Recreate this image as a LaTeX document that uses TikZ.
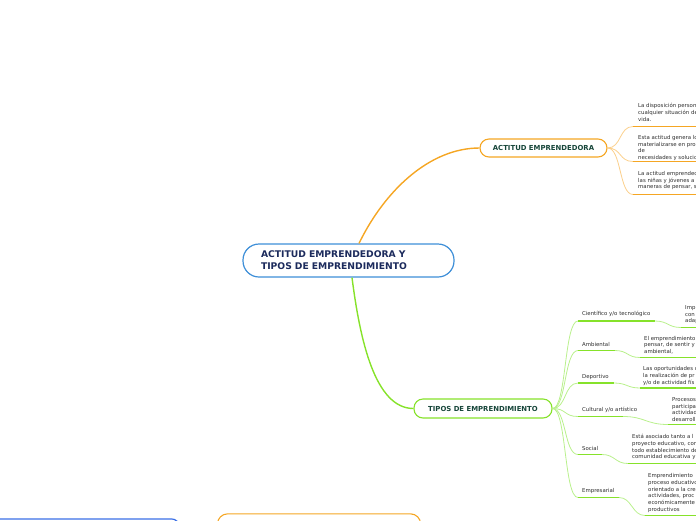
\documentclass[tikz,border=0pt]{standalone}
\usepackage{fontspec}
\setmainfont{DejaVu Sans}
\definecolor{cblue}{HTML}{3E8FD8}
\definecolor{cnavy}{HTML}{1B2A5C}
\definecolor{corange}{HTML}{F5A623}
\definecolor{clorange}{HTML}{FBD08C}
\definecolor{cgreen}{HTML}{86E22A}
\definecolor{clgreen}{HTML}{B9F08C}
\definecolor{cdgreen}{HTML}{17463A}
\definecolor{ctext}{HTML}{2E2E2E}
\definecolor{cbblue}{HTML}{3A6FE6}
\tikzset{
  mainbox/.style={draw=cblue,line width=1.2pt,rounded corners=16pt,fill=white,minimum width=211pt,minimum height=33pt,text width=175pt,align=left,inner sep=0pt,text=cnavy,font=\fontsize{9.2}{12}\selectfont\bfseries},
  subbox/.style={draw=#1,line width=1.1pt,rounded corners=9pt,fill=white,minimum height=18pt,inner sep=0pt,text=cdgreen,font=\fontsize{6.9}{8}\selectfont\bfseries},
  desc/.style={anchor=north west,inner sep=0pt,align=left,text=ctext,font=\fontsize{5.4}{6.7}\selectfont},
  catlabel/.style={anchor=south west,inner sep=0pt,text=ctext,font=\fontsize{5.4}{6}\selectfont},
  ortrunk/.style={draw=corange,line width=1.4pt},
  grtrunk/.style={draw=cgreen,line width=1.4pt},
  orfan/.style={draw=clorange,line width=0.8pt},
  grfan/.style={draw=clgreen,line width=0.8pt},
  orline/.style={draw=corange,line width=1.5pt},
  grline/.style={draw=cgreen,line width=1.5pt},
}
\begin{document}
\begin{tikzpicture}[x=1pt,y=-1pt]
\useasboundingbox (0,0) rectangle (696,520);
\clip (0,0) rectangle (696,520);

% main nodes and connectors
\node[mainbox] (central) at (348.5,260.5) {ACTITUD EMPRENDEDORA Y\\TIPOS DE EMPRENDIMIENTO};
\node[subbox=corange,minimum width=127pt] (actitud) at (543.5,148) {ACTITUD EMPRENDEDORA};
\node[subbox=cgreen,minimum width=138pt,minimum height=19pt] (tipos) at (483,408.5) {TIPOS DE EMPRENDIMIENTO};

\draw[ortrunk] ([xshift=10.5pt]central.north) .. controls (385,190) and (430,148) .. (actitud.west);
\draw[grtrunk] ([xshift=3.5pt]central.south) .. controls (360,340) and (375,408.5) .. (tipos.west);

% ACTITUD descriptions
\coordinate (a1) at (633,126.5);
\coordinate (a2) at (633,161.5);
\coordinate (a3) at (633,194.5);
\foreach \c in {a1,a2,a3}{
  \draw[orfan] (actitud.east) .. controls +(14,0) and ([xshift=-14pt]\c) .. (\c);
}
\coordinate (a1e) at (700,126.5);
\coordinate (a2e) at (700,161.5);
\coordinate (a3e) at (700,194.5);
\draw[orline] (a1) -- (a1e);
\draw[orline] (a2) -- (a2e);
\draw[orline] (a3) -- (a3e);
\node[desc] (ad1) at (638,103.4) {La disposición person\\cualquier situación de\\vida.};
\node[desc] (ad2) at (638,135.1) {Esta actitud genera lo\\materializarse en pro\\de\\necesidades y solucio};
\node[desc] (ad3) at (638,171.2) {La actitud emprended\\las niñas y jóvenes a\\maneras de pensar, s};

% TIPOS categories
\coordinate (c1) at (578,321);   \coordinate (c1e) at (655,321);
\coordinate (c2) at (578,350.5); \coordinate (c2e) at (615,350.5);
\coordinate (c3) at (578,383);   \coordinate (c3e) at (614,383);
\coordinate (c4) at (578,416.5); \coordinate (c4e) at (623,416.5);
\coordinate (c5) at (578,454.5); \coordinate (c5e) at (602,454.5);
\coordinate (c6) at (578,497.5); \coordinate (c6e) at (619,497.5);
\foreach \c in {c1,c2,c3,c4,c5,c6}{
  \draw[grfan] (tipos.east) .. controls +(14,0) and ([xshift=-14pt]\c) .. (\c);
}
\draw[grline] (c1) -- (c1e);
\draw[grline] (c2) -- (c2e);
\draw[grline] (c3) -- (c3e);
\draw[grline] (c4) -- (c4e);
\draw[grline] (c5) -- (c5e);
\draw[grline] (c6) -- (c6e);
\node[catlabel] (l1) at (582,317) {Científico y/o tecnológico};
\node[catlabel] (l2) at (582,347) {Ambiental};
\node[catlabel] (l3) at (582,379.5) {Deportivo};
\node[catlabel] (l4) at (582,413) {Cultural y/o artístico};
\node[catlabel] (l5) at (582,450.5) {Social};
\node[catlabel] (l6) at (582,494) {Empresarial};

% description underlines
\coordinate (d1) at (681,327.5); \coordinate (d1e) at (700,327.5);
\coordinate (d2) at (640,357.5); \coordinate (d2e) at (700,357.5);
\coordinate (d3) at (640,388);   \coordinate (d3e) at (700,388);
\coordinate (d4) at (668,424.5); \coordinate (d4e) at (700,424.5);
\coordinate (d5) at (628,463.5); \coordinate (d5e) at (700,463.5);
\coordinate (d6) at (645,515.5); \coordinate (d6e) at (700,515.5);
\draw[grfan] (c1e) .. controls +(13,0) and +(-13,0) .. (d1);
\draw[grfan] (c2e) .. controls +(13,0) and +(-13,0) .. (d2);
\draw[grfan] (c3e) .. controls +(13,0) and +(-13,0) .. (d3);
\draw[grfan] (c4e) .. controls +(22,0) and +(-22,0) .. (d4);
\draw[grfan] (c5e) .. controls +(13,0) and +(-13,0) .. (d5);
\draw[grfan] (c6e) .. controls +(13,0) and +(-13,0) .. (d6);
\draw[grline] (d1) -- (d1e);
\draw[grline] (d2) -- (d2e);
\draw[grline] (d3) -- (d3e);
\draw[grline] (d4) -- (d4e);
\draw[grline] (d5) -- (d5e);
\draw[grline] (d6) -- (d6e);
\node[desc] (t1) at (685,305.3) {Imp\\con\\adap};
\node[desc] (t2) at (644,335.8) {El emprendimiento\\pensar, de sentir y\\ambiental,};
\node[desc] (t3) at (643,366.3) {Las oportunidades d\\la realización de pr\\y/o de actividad fís};
\node[desc] (t4) at (672,397.3) {Procesos\\participa\\actividad\\desarroll};
\node[desc] (t5) at (632,434.3) {Está asociado tanto a l\\proyecto educativo, con\\todo establecimiento de\\comunidad educativa y};
\node[desc] (t6) at (648,473.3) {Emprendimiento\\proceso educativo\\orientado a la cre\\actividades, proc\\económicamente\\productivos};

% bottom partially visible nodes
\node[draw=cbblue,line width=1.2pt,rounded corners=8pt,minimum width=200pt,minimum height=30pt,anchor=north east] (bblue) at (180,518.3) {};
\node[draw=corange,line width=1.1pt,rounded corners=10pt,minimum width=203pt,minimum height=30pt,anchor=north west] (borange) at (217,513.3) {};
\end{tikzpicture}
\end{document}
